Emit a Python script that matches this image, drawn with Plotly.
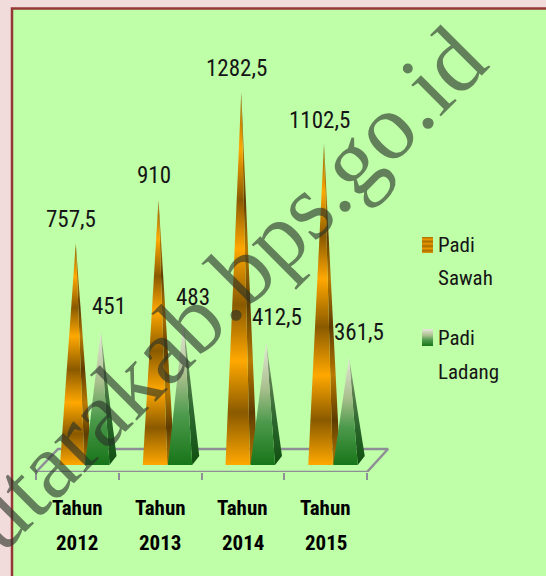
import plotly.graph_objects as go

categories = ["2012", "2013", "2014", "2015"]
padi_sawah = [757.5, 910, 1282.5, 1102.5]
padi_ladang = [451, 483, 412.5, 361.5]
axis_word = "Tahun"
legend_sawah = ["Padi", "Sawah"]
legend_ladang = ["Padi", "Ladang"]
watermark = "utarakab.bps.go.id"

W, H = 546, 576
L, R, T, B = 36, 367, 0, 472
PX_X = (R - L) / 4
PX_Y = 0.2875
Y_LOW = -(B - 461) / PX_Y
Y_HIGH = 461 / PX_Y


def px_x(p):
    return (p - L) / PX_X


def px_y(p):
    return (461 - p) / PX_Y


def paper_x(p):
    return p / W


def paper_y(p):
    return (B - p) / (B - T)


ORANGE = [[0, "#FFA800"], [.14, "#8A5A00"], [.28, "#FFA800"], [.43, "#8A5A00"],
          [.58, "#FFA800"], [.71, "#8A5A00"], [.85, "#FFA800"], [1, "#8A5A00"]]
ORANGE_SIDE = [[0, "#B87A00"], [.14, "#5E3C00"], [.28, "#B87A00"], [.43, "#5E3C00"],
               [.58, "#B87A00"], [.71, "#5E3C00"], [.85, "#B87A00"], [1, "#5E3C00"]]
GREEN = [[0, "#187518"], [.35, "#4C9A4C"], [.62, "#A8BF8C"], [1, "#E8E8DC"]]
GREEN_SIDE = [[0, "#0F4F10"], [.4, "#2F6A30"], [.7, "#5E7E50"], [1, "#C0C8B0"]]
STRIPES = [[0, "#E89800"], [.14, "#A86E00"], [.28, "#E89800"], [.43, "#A86E00"],
           [.58, "#E89800"], [.71, "#A86E00"], [.85, "#E89800"], [1, "#A86E00"]]
FLOOR = "#8E8E96"
TEXT = "#151515"
FONT = "Roboto Condensed, DejaVu Sans Condensed, Lato, sans-serif"

fig = go.Figure()


def poly(xs, ys, scale, start, stop):
    fig.add_trace(go.Scatter(
        x=xs, y=ys, mode="lines", line=dict(width=0), fill="toself",
        hoverinfo="skip",
        fillgradient=dict(type="vertical", colorscale=scale, start=start, stop=stop),
        showlegend=False))


# floor outline
fig.add_trace(go.Scatter(
    x=[0, px_x(58), px_x(388), 4, 0], y=[Y_LOW, px_y(449), px_y(449), Y_LOW, Y_LOW],
    mode="lines", line=dict(color=FLOOR, width=2.5), hoverinfo="skip",
    cliponaxis=False, showlegend=False))

BW = 24.5 / PX_X
DX = 7 / PX_X
FRONT = px_y(465)
BACK = px_y(456)


def pyramid(left, value, front, side):
    right = left + BW
    tip = left + (BW + DX) / 2
    poly([right, right + DX, tip, right], [FRONT, BACK, value, FRONT], side, FRONT, value)
    poly([left, right, tip, left], [FRONT, FRONT, value, FRONT], front, FRONT, value)
    return tip


annotations = []


def label(x, value, dx, dy):
    text = f"{value:g}".replace(".", ",")
    annotations.append(dict(x=x, y=value, text=text, showarrow=False,
                            xshift=dx, yshift=dy,
                            font=dict(family=FONT, size=23, color=TEXT)))


ladang_shift = [8, 9, 11, 10]
for i in range(len(categories)):
    left = i + (60 - L) / PX_X
    t = pyramid(left, padi_sawah[i], ORANGE, ORANGE_SIDE)
    label(t, padi_sawah[i], -4.5, 24)

for i in range(len(categories)):
    left = i + (85 - L) / PX_X
    t = pyramid(left, padi_ladang[i], GREEN, GREEN_SIDE)
    label(t, padi_ladang[i], ladang_shift[i], 25)

# legend swatches
for y0, y1, scale in [(237, 253, STRIPES), (329, 346, GREEN)]:
    x0, x1 = px_x(422), px_x(433)
    poly([x0, x1, x1, x0, x0], [px_y(y1), px_y(y1), px_y(y0), px_y(y0), px_y(y1)],
         scale, px_y(y1), px_y(y0))

for word, yc in zip(legend_sawah + legend_ladang, [245, 278, 338, 372]):
    annotations.append(dict(xref="paper", yref="paper", x=paper_x(435.5), y=paper_y(yc),
                            xanchor="left", yanchor="middle", text=word, showarrow=False,
                            font=dict(family=FONT, size=21, color=TEXT)))

# category labels
for i, c in enumerate(categories):
    for word, yc in [(axis_word, 508), (c, 543)]:
        annotations.append(dict(x=i + 0.5, xanchor="center", yref="paper", y=paper_y(yc),
                                yanchor="middle", text=f"<b>{word}</b>", showarrow=False,
                                font=dict(family=FONT, size=21, color="#000000")))

annotations.append(dict(xref="paper", yref="paper", x=paper_x(224), y=paper_y(288),
                        text=watermark, textangle=-45, showarrow=False,
                        font=dict(family="Liberation Serif", size=94, color="rgba(40,50,40,0.62)")))

fig.update_layout(
    width=W, height=H, autosize=False,
    margin=dict(l=0, r=0, t=T, b=H - B),
    paper_bgcolor="#F2DBDB", plot_bgcolor="rgba(0,0,0,0)",
    showlegend=False,
    xaxis=dict(range=[px_x(0), px_x(W)], showgrid=False, zeroline=False, showline=False,
               showticklabels=False, anchor="y",
               tickvals=[0, 1, 2, 3, 4], ticks="outside", ticklen=7, tickwidth=2,
               tickcolor=FLOOR, fixedrange=True),
    yaxis=dict(range=[Y_LOW, Y_HIGH], visible=False, fixedrange=True),
    annotations=annotations,
    shapes=[dict(type="rect", layer="below", xref="paper", yref="paper",
                 x0=paper_x(12), x1=paper_x(560), y0=paper_y(600), y1=paper_y(8.5),
                 fillcolor="#BFFFA8", line=dict(color="#953735", width=2.5))],
)

fig.write_html("out.html", config={"displayModeBar": False},
               post_script="document.body.style.margin='0';document.body.style.overflow='hidden';")
